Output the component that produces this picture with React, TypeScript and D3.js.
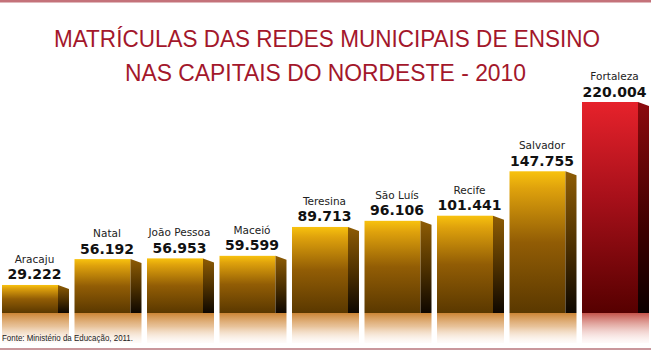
import React from 'react';
import * as d3 from 'd3';

// Data
const cities = ['Aracaju', 'Natal', 'João Pessoa', 'Maceió', 'Teresina', 'São Luís', 'Recife', 'Salvador', 'Fortaleza'];
const enrolments = [29.222, 56.192, 56.953, 59.599, 89.713, 96.106, 101.441, 147.755, 220.004];
const valueLabels = ['29.222', '56.192', '56.953', '59.599', '89.713', '96.106', '101.441', '147.755', '220.004'];
const highlighted = ['Fortaleza'];

const titleLines = ['MATRÍCULAS DAS REDES MUNICIPAIS DE ENSINO', 'NAS CAPITAIS DO NORDESTE - 2010'];
const sourceNote = 'Fonte: Ministério da Educação, 2011.';

const W = 651;
const H = 352;
const baseline = 313;
const sideW = 11;
const sideDrop = 4;

export default function App() {
  const x = d3.scaleBand<string>()
    .domain(cities)
    .range([2, 649])
    .paddingInner(0.076)
    .paddingOuter(0);

  const y = d3.scaleLinear()
    .domain([0, d3.max(enrolments) as number])
    .range([baseline, 102]);

  const frontW = x.bandwidth() - sideW;

  return (
    <div style={{ position: 'fixed', left: 0, top: 0 }}>
      <svg width={W} height={H} style={{ display: 'block', background: '#fff' }}>
        <defs>
          <linearGradient id="goldFront" x1="0" y1="0" x2="0" y2="1">
            <stop offset="0" stopColor="#f8c20e" />
            <stop offset="0.12" stopColor="#dfa20c" />
            <stop offset="0.5" stopColor="#925d05" />
            <stop offset="1" stopColor="#5a3800" />
          </linearGradient>
          <linearGradient id="goldSide" x1="0" y1="0" x2="0" y2="1">
            <stop offset="0" stopColor="#8e5c04" />
            <stop offset="0.55" stopColor="#4a2e00" />
            <stop offset="1" stopColor="#0e0700" />
          </linearGradient>
          <linearGradient id="redFront" x1="0" y1="0" x2="0" y2="1">
            <stop offset="0" stopColor="#e6222b" />
            <stop offset="0.45" stopColor="#a8101a" />
            <stop offset="1" stopColor="#560000" />
          </linearGradient>
          <linearGradient id="redSide" x1="0" y1="0" x2="0" y2="1">
            <stop offset="0" stopColor="#8c0a0e" />
            <stop offset="0.6" stopColor="#3e0000" />
            <stop offset="1" stopColor="#0c0000" />
          </linearGradient>
          <linearGradient id="goldRefl" x1="0" y1="0" x2="0" y2="1">
            <stop offset="0" stopColor="#cc8535" stopOpacity="1" />
            <stop offset="0.45" stopColor="#e0ae78" stopOpacity="0.75" />
            <stop offset="1" stopColor="#fbeee4" stopOpacity="0.2" />
          </linearGradient>
          <linearGradient id="redRefl" x1="0" y1="0" x2="0" y2="1">
            <stop offset="0" stopColor="#c4544a" stopOpacity="1" />
            <stop offset="0.45" stopColor="#e0a098" stopOpacity="0.75" />
            <stop offset="1" stopColor="#fbe6e2" stopOpacity="0.2" />
          </linearGradient>
        </defs>

        {/* frame lines */}
        <rect x={0} y={0} width={W} height={2.5} fill="#c4727a" />
        <rect x={0} y={348} width={W} height={2} fill="#c9979c" />

        {/* title */}
        {titleLines.map((t, i) => (
          <text
            key={t}
            x={i === 0 ? 327 : 325.5}
            y={i === 0 ? 47 : 81}
            textAnchor="middle"
            fill="#a3172b"
            fontFamily="'Liberation Sans', Arial, sans-serif"
            fontSize={23.5}
            textLength={i === 0 ? 546 : 401}
            lengthAdjust="spacingAndGlyphs"
          >
            {t}
          </text>
        ))}

        {cities.map((c, i) => {
          const x0 = x(c) as number;
          const top = y(enrolments[i]);
          const red = highlighted.includes(c);
          const cx = x0 + x.bandwidth() / 2 - 1;
          const sidePath = `M${x0 + frontW},${top} L${x0 + frontW + sideW},${top + sideDrop} L${x0 + frontW + sideW},${baseline} L${x0 + frontW},${baseline} Z`;
          return (
            <g key={c}>
              <rect
                x={x0}
                y={baseline}
                width={x.bandwidth()}
                height={30}
                fill={red ? 'url(#redRefl)' : 'url(#goldRefl)'}
              />
              <rect
                x={x0}
                y={top}
                width={frontW}
                height={baseline - top}
                fill={red ? 'url(#redFront)' : 'url(#goldFront)'}
              />
              <path d={sidePath} fill={red ? 'url(#redSide)' : 'url(#goldSide)'} />
              <text
                x={cx}
                y={top - 22}
                textAnchor="middle"
                fill="#222"
                fontFamily="'DejaVu Sans', sans-serif"
                fontSize={10.5}
              >
                {c}
              </text>
              <text
                x={cx}
                y={top - 5.5}
                textAnchor="middle"
                fill="#111"
                fontFamily="'DejaVu Sans', sans-serif"
                fontWeight="bold"
                fontSize={14}
              >
                {valueLabels[i]}
              </text>
            </g>
          );
        })}

        <text
          x={2}
          y={341}
          fill="#222"
          fontFamily="'Liberation Sans Narrow', 'Liberation Sans', sans-serif"
          fontSize={9}
          textLength={131}
          lengthAdjust="spacingAndGlyphs"
        >
          {sourceNote}
        </text>
      </svg>
    </div>
  );
}
